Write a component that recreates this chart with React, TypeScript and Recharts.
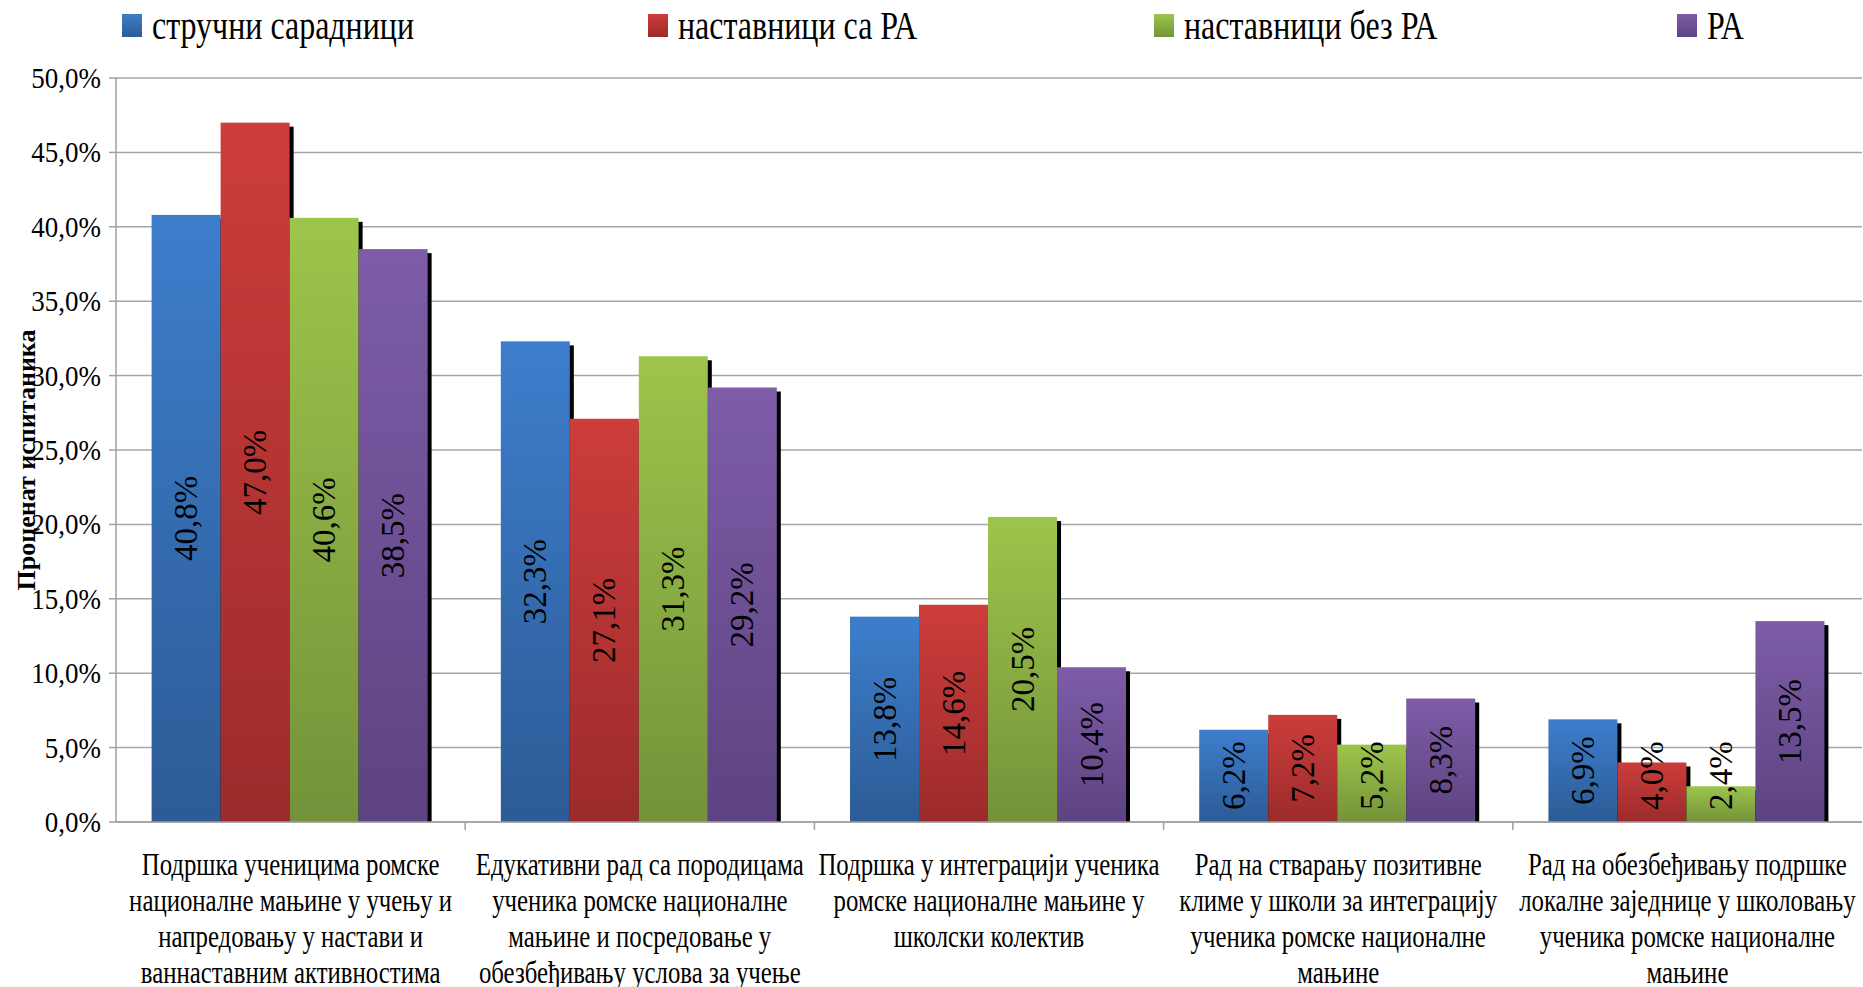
import React from 'react';
import { BarChart, Bar, XAxis, YAxis, CartesianGrid, LabelList, Legend } from 'recharts';

const categories = [
  'Подршка ученицима ромске\nнационалне мањине у учењу и\nнапредовању у настави и\nваннаставним активностима',
  'Едукативни рад са породицама\nученика ромске националне\nмањине и посредовање у\nобезбеђивању услова за учење',
  'Подршка у интеграцији ученика\nромске националне мањине у\nшколски колектив',
  'Рад на стварању позитивне\nклиме у школи за интеграцију\nученика ромске националне\nмањине',
  'Рад на обезбеђивању подршке\nлокалне заједнице у школовању\nученика ромске националне\nмањине',
];

const seriesNames = ['стручни сарадници', 'наставници са РА', 'наставници без РА', 'РА'];
const strucniSaradnici = [40.8, 32.3, 13.8, 6.2, 6.9];
const nastavniciSaRA = [47.0, 27.1, 14.6, 7.2, 4.0];
const nastavniciBezRA = [40.6, 31.3, 20.5, 5.2, 2.4];
const romskiAsistenti = [38.5, 29.2, 10.4, 8.3, 13.5];
const yTicks = [0, 5, 10, 15, 20, 25, 30, 35, 40, 45, 50];
const yAxisTitle = 'Проценат испитаника';

const topColors = ['#3D7ECC', '#CC3D3B', '#9DC54B', '#7E5CA8'];
const bottomColors = ['#2C5B96', '#9C2B2B', '#74923A', '#5D4381'];

const seriesValues = [strucniSaradnici, nastavniciSaRA, nastavniciBezRA, romskiAsistenti];
const keys = ['s0', 's1', 's2', 's3'];

const data = categories.map((c, i) => {
  const row: any = { category: c };
  keys.forEach((k, s) => {
    row[k] = seriesValues[s][i];
  });
  return row;
});

const SERIF = '"Liberation Serif", "Times New Roman", serif';
const fmt = (v: number) => v.toFixed(1).replace('.', ',') + '%';

const ShadowBar = (props: any) => {
  const { x, y, width, height, fill } = props;
  if (!height || height <= 0) return null;
  return (
    <g>
      <rect x={x + 4} y={y + 4} width={width} height={Math.max(0, height - 4)} fill="#000" />
      <rect x={x} y={y} width={width} height={height} fill={fill} />
    </g>
  );
};

const LABEL_FS = 33;
const RotatedLabel = (props: any) => {
  const { x, y, width, height, value } = props;
  const text = fmt(Number(value));
  const digits = text.length - 2;
  const len = LABEL_FS * (0.5 * digits + 0.25 + 0.833);
  const bottom = y + height;
  const cy = Math.min(y + height / 2, bottom - 12 - len / 2);
  const cx = x + width / 2;
  return (
    <text
      transform={`translate(${cx},${cy}) rotate(-90)`}
      textAnchor="middle"
      dominantBaseline="central"
      fontSize={LABEL_FS}
      fontFamily={SERIF}
      fill="#000"
    >
      {text}
    </text>
  );
};

const YTick = (props: any) => {
  const { x, y, payload } = props;
  return (
    <g transform={`translate(${x},${y})`}>
      <text transform="scale(0.9,1)" textAnchor="end" dominantBaseline="central" fontSize={30} fontFamily={SERIF} fill="#000">
        {fmt(payload.value)}
      </text>
    </g>
  );
};

const XTick = (props: any) => {
  const { x, y, payload, width, visibleTicksCount, index } = props;
  const band = width && visibleTicksCount ? width / visibleTicksCount : 349;
  const lines = String(payload.value).split('\n');
  return (
    <g>
      {index > 0 && <line x1={x - band / 2} x2={x - band / 2} y1={y} y2={y + 8} stroke="#A0A0A0" strokeWidth={1.5} />}
      <g transform={`translate(${x},${y})`}>
        <text transform="scale(0.8,1)" textAnchor="middle" fontSize={31} fontFamily={SERIF} fill="#000">
          {lines.map((l, i) => (
            <tspan key={i} x={0} y={43 + i * 36} dominantBaseline="central">
              {l}
            </tspan>
          ))}
        </text>
      </g>
    </g>
  );
};

const YTitle = (props: any) => {
  const vb = props.viewBox || { x: 16, y: 78, width: 100, height: 744 };
  const cx = vb.x + 10;
  const cy = vb.y + vb.height / 2 + 10;
  return (
    <text
      transform={`translate(${cx},${cy}) rotate(-90)`}
      textAnchor="middle"
      dominantBaseline="central"
      fontSize={26}
      fontWeight="bold"
      fontFamily={SERIF}
      fill="#000"
    >
      {yAxisTitle}
    </text>
  );
};

const legendLefts = [122, 648, 1154, 1677];
const LegendContent = () => (
  <svg width={1863} height={60} style={{ display: 'block' }}>
    <defs>
      {topColors.map((c, i) => (
        <linearGradient key={i} id={`lg${i}`} x1="0" y1="0" x2="0" y2="1">
          <stop offset="0%" stopColor={c} />
          <stop offset="100%" stopColor={bottomColors[i]} />
        </linearGradient>
      ))}
    </defs>
    {seriesNames.map((n, i) => (
      <g key={n}>
        <rect x={legendLefts[i]} y={14} width={20} height={23} fill={`url(#lg${i})`} />
        <g transform={`translate(${legendLefts[i] + 30},39)`}>
          <text transform="scale(0.82,1)" fontSize={39} fontFamily={SERIF} fill="#000">
            {n}
          </text>
        </g>
      </g>
    ))}
  </svg>
);

export default function App() {
  return (
    <div style={{ position: 'absolute', left: 0, top: 0, width: 1863, height: 987, background: '#fff' }}>
      <BarChart
        width={1863}
        height={987}
        data={data}
        margin={{ top: 78, right: 1, left: 16, bottom: 15 }}
        barCategoryGap="10.2%"
        barGap={0}
      >
        <defs>
          {topColors.map((c, i) => (
            <linearGradient key={i} id={`g${i}`} x1="0" y1="0" x2="0" y2="1">
              <stop offset="0%" stopColor={c} />
              <stop offset="100%" stopColor={bottomColors[i]} />
            </linearGradient>
          ))}
        </defs>
        <CartesianGrid vertical={false} stroke="#A6A6A6" strokeWidth={1.5} />
        <XAxis
          dataKey="category"
          interval={0}
          height={150}
          tickSize={0}
          tickMargin={0}
          tickLine={false}
          axisLine={{ stroke: '#A0A0A0', strokeWidth: 1.5 }}
          tick={<XTick />}
        />
        <YAxis
          domain={[0, 50]}
          ticks={yTicks}
          width={100}
          tickSize={7}
          tickMargin={8}
          interval={0}
          axisLine={{ stroke: '#A0A0A0', strokeWidth: 1.5 }}
          tickLine={{ stroke: '#A0A0A0', strokeWidth: 1.5 }}
          tick={<YTick />}
          label={<YTitle />}
        />
        <Legend
          layout="horizontal"
          verticalAlign="middle"
          align="center"
          wrapperStyle={{ top: 0, left: 0, width: 1863, height: 60 }}
          content={<LegendContent />}
        />
        {keys.map((k, i) => (
          <Bar key={k} dataKey={k} name={seriesNames[i]} fill={`url(#g${i})`} shape={<ShadowBar />} isAnimationActive={false}>
            <LabelList dataKey={k} content={<RotatedLabel />} />
          </Bar>
        ))}
      </BarChart>
    </div>
  );
}
